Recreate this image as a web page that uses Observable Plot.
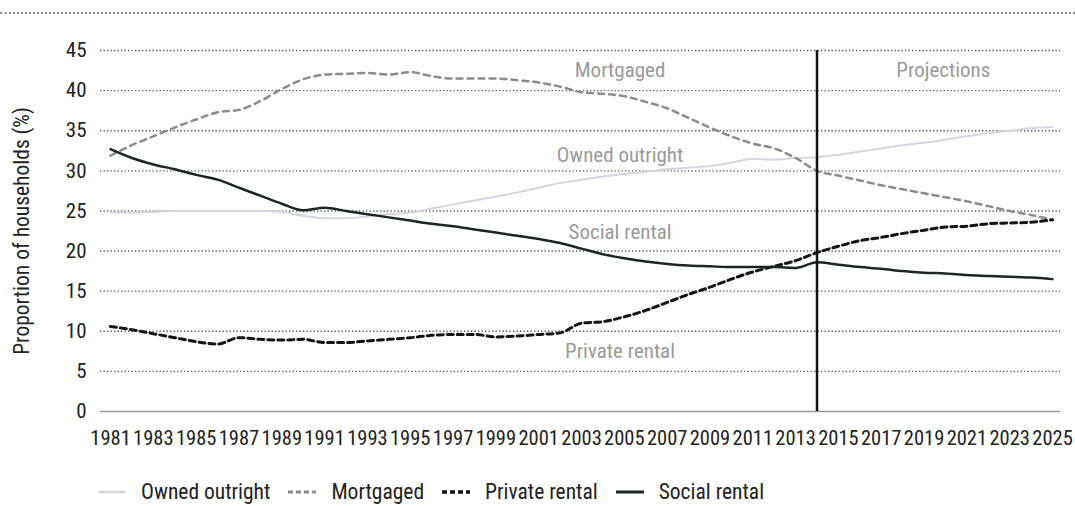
<!DOCTYPE html>
<html>
<head>
<meta charset="utf-8">
<script src="https://cdn.jsdelivr.net/npm/d3@7"></script>
<script src="https://cdn.jsdelivr.net/npm/@observablehq/plot@0.6"></script>
<style>
  html, body { margin: 0; padding: 0; background: #fff; }
  body { width: 1075px; height: 506px; position: relative; overflow: hidden;
         font-family: "Liberation Sans Narrow", "Roboto Condensed", "DejaVu Sans Condensed", "Liberation Sans", sans-serif; }
  #topline { position: absolute; left: 0; top: 12px; width: 1075px; border-top: 2px dotted #8a8a8a; }
  #chart { position: absolute; left: 0; top: 0; }
  #legend { position: absolute; left: 97px; top: 479px; display: flex; align-items: center;
            font-size: 21.5px; color: #222; white-space: nowrap; }
  #legend .item { display: flex; align-items: center; margin-right: 17px; }
  #legend svg { margin-right: 14px; }
</style>
</head>
<body>
<div id="topline"></div>
<div id="chart"></div>
<div id="legend"></div>
<script>
const years = [1981,1982,1983,1984,1985,1986,1987,1988,1989,1990,1991,1992,1993,1994,1995,1996,1997,1998,1999,2000,2001,2002,2003,2004,2005,2006,2007,2008,2009,2010,2011,2012,2013,2014,2015,2016,2017,2018,2019,2020,2021,2022,2023,2024,2025];

const ownedOutright = [24.8,24.8,24.9,25.0,25.0,25.0,25.0,25.0,24.9,24.4,24.1,24.1,24.3,24.6,24.8,25.3,25.8,26.3,26.8,27.3,27.9,28.5,28.9,29.3,29.6,29.9,30.2,30.4,30.6,31.0,31.5,31.4,31.6,31.7,32.0,32.4,32.8,33.2,33.5,33.9,34.3,34.7,35.0,35.3,35.5];
const mortgaged = [31.9,33.2,34.3,35.4,36.4,37.3,37.6,38.7,40.2,41.4,42.0,42.1,42.2,42.0,42.3,41.8,41.5,41.5,41.5,41.3,41.0,40.5,39.8,39.6,39.3,38.6,37.8,36.6,35.4,34.3,33.4,32.8,31.6,30.0,29.4,28.8,28.2,27.7,27.2,26.7,26.2,25.6,25.0,24.5,23.9];
const privateRental = [10.6,10.2,9.7,9.2,8.7,8.4,9.2,9.0,8.9,9.0,8.6,8.6,8.8,9.0,9.2,9.5,9.6,9.6,9.3,9.4,9.6,9.8,11.0,11.2,11.8,12.6,13.6,14.6,15.5,16.5,17.4,18.1,18.8,19.8,20.6,21.3,21.7,22.2,22.6,23.0,23.1,23.4,23.5,23.6,23.9];
const socialRental = [32.7,31.6,30.8,30.2,29.5,28.9,27.9,26.9,25.9,25.1,25.4,25.0,24.6,24.2,23.8,23.4,23.1,22.7,22.3,21.9,21.5,21.0,20.3,19.6,19.1,18.7,18.4,18.2,18.1,18.0,18.0,18.0,17.9,18.6,18.3,18.0,17.8,17.5,17.3,17.2,17.0,16.9,16.8,16.7,16.5];

const seriesNames = ["Owned outright", "Mortgaged", "Private rental", "Social rental"];
const xTicks = [1981,1983,1985,1987,1989,1991,1993,1995,1997,1999,2001,2003,2005,2007,2009,2011,2013,2015,2017,2019,2021,2023,2025];
const yTicks = [0,5,10,15,20,25,30,35,40,45];
const projectionStart = 2014;
const yLabel = "Proportion of households (%)";

const annotationText = ["Mortgaged", "Projections", "Owned outright", "Social rental", "Private rental"];
const annotationYear = [2004.8, 2019.9, 2004.8, 2004.8, 2004.8];
const annotationValue = [42.5, 42.5, 32.0, 22.4, 7.5];

const styles = {
  "Owned outright": {stroke: "#d4d4e2", strokeWidth: 2, strokeDasharray: null},
  "Mortgaged": {stroke: "#8c8c8c", strokeWidth: 2.5, strokeDasharray: "6,5"},
  "Private rental": {stroke: "#141414", strokeWidth: 3, strokeDasharray: "6,4"},
  "Social rental": {stroke: "#1c2620", strokeWidth: 2.5, strokeDasharray: null}
};
const valuesBySeries = [ownedOutright, mortgaged, privateRental, socialRental];

const lineMarks = seriesNames.map((name, i) => {
  const data = years.map((yr, j) => ({year: yr, value: valuesBySeries[i][j]}));
  const s = styles[name];
  const opts = {x: "year", y: "value", stroke: s.stroke, strokeWidth: s.strokeWidth, curve: "monotone-x"};
  if (s.strokeDasharray) opts.strokeDasharray = s.strokeDasharray;
  return Plot.line(data, opts);
});

const annotations = annotationText.map((t, i) => ({text: t, year: annotationYear[i], value: annotationValue[i]}));

const fontFam = '"Liberation Sans Narrow", "Roboto Condensed", "DejaVu Sans Condensed", "Liberation Sans", sans-serif';

const plot = Plot.plot({
  width: 1075,
  height: 460,
  marginTop: 50,
  marginBottom: 49,
  marginLeft: 100,
  marginRight: 15,
  style: {fontFamily: fontFam, fontSize: "21px", color: "#222", background: "transparent"},
  x: {domain: [1981, 2025], insetLeft: 10, insetRight: 8},
  y: {domain: [0, 45]},
  marks: [
    Plot.ruleY(yTicks.filter(d => d > 0), {stroke: "#555", strokeWidth: 1.4, strokeDasharray: "1.3,2.2"}),
    Plot.ruleY([0], {stroke: "#999", strokeWidth: 1.5}),
    Plot.axisY({ticks: yTicks, tickSize: 0, tickPadding: 14, fontSize: 21, label: null}),
    Plot.axisX({ticks: xTicks, tickSize: 0, tickPadding: 19, fontSize: 20.5, tickFormat: d => String(d), label: null}),
    Plot.text([yLabel], {frameAnchor: "left", textAnchor: "middle", dx: -78, rotate: -90, text: d => d, fontSize: 21.5, fill: "#222"}),
    ...lineMarks,
    Plot.ruleX([projectionStart], {y1: 0, y2: 45, stroke: "#111", strokeWidth: 2.5}),
    Plot.text(annotations, {x: "year", y: "value", text: "text", fill: "#9a9a9a", fontSize: 21})
  ]
});
document.getElementById("chart").appendChild(plot);

const legend = document.getElementById("legend");
seriesNames.forEach(name => {
  const s = styles[name];
  const item = document.createElement("div");
  item.className = "item";
  const ns = "http://www.w3.org/2000/svg";
  const svg = document.createElementNS(ns, "svg");
  svg.setAttribute("width", 30);
  svg.setAttribute("height", 10);
  const ln = document.createElementNS(ns, "line");
  ln.setAttribute("x1", 1); ln.setAttribute("x2", 29);
  ln.setAttribute("y1", 5); ln.setAttribute("y2", 5);
  ln.setAttribute("stroke", s.stroke);
  ln.setAttribute("stroke-width", s.strokeWidth + 0.5);
  if (s.strokeDasharray) ln.setAttribute("stroke-dasharray", "5,3");
  svg.appendChild(ln);
  item.appendChild(svg);
  const span = document.createElement("span");
  span.textContent = name;
  item.appendChild(span);
  legend.appendChild(item);
});
</script>
</body>
</html>
